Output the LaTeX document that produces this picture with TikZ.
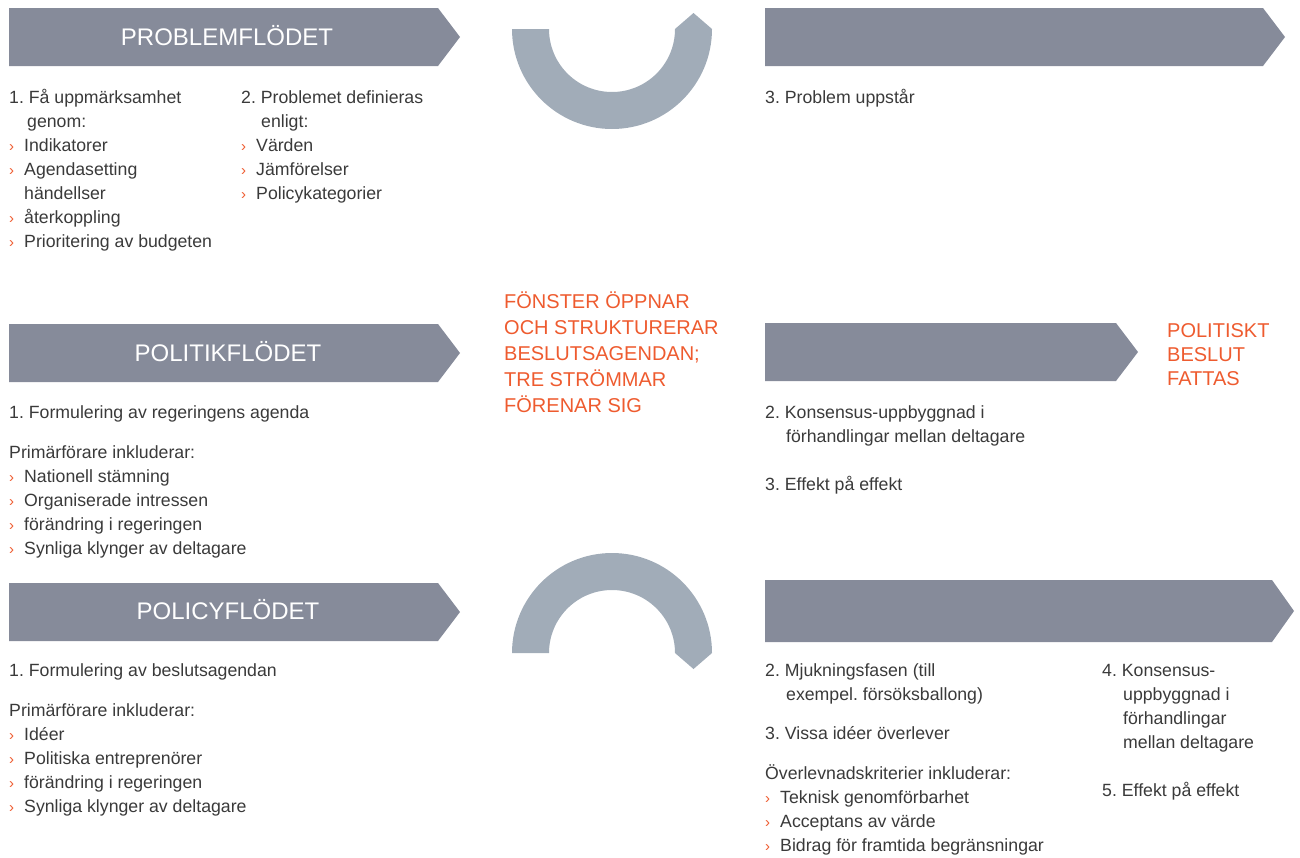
\documentclass[tikz,border=0pt]{standalone}
\usepackage{fontspec}
\setmainfont{Liberation Sans}
\usepackage{xcolor}
\usetikzlibrary{positioning}
\definecolor{flowgrey}{HTML}{868B9A}
\definecolor{arcgrey}{HTML}{A1ACB8}
\definecolor{ink}{HTML}{3A3A3A}
\definecolor{accent}{HTML}{EE5B2F}
\newcommand{\pil}{\makebox[15pt][l]{\textcolor{accent}{\fontsize{15}{15}\selectfont ›}}}

\begin{document}
\begin{tikzpicture}[x=1pt, y=-1pt,
  flow/.style={fill=flowgrey},
  window/.style={fill=arcgrey},
  head/.style={anchor=base, inner sep=0pt, text=white, font=\fontsize{24}{24}\selectfont},
  body/.style={anchor=north west, inner sep=0pt, align=left, text=ink, font=\fontsize{17.7}{24}\selectfont\frenchspacing},
  note/.style={anchor=north west, inner sep=0pt, align=left, text=accent, font=\fontsize{20}{26}\selectfont}]
  \useasboundingbox (0,0) rectangle (1300,857);
  % stream arrows
  \foreach \xa/\ya/\xb/\yb in {9/8/460/66, 765/8/1285/66, 9/324/460/382, 765/323/1138/381, 9/583/460/641, 765/580/1294/642}
    \fill[flow] (\xa,\ya) -- (\xb-22,\ya) -- (\xb,{(\ya+\yb)/2}) -- (\xb-22,\yb) -- (\xa,\yb) -- cycle;
  % window arcs
  \fill[window] (512,29) arc[start angle=180, end angle=0, radius=100] -- (693.5,13) -- (675,29)
    arc[start angle=0, end angle=180, radius=63] -- cycle;
  \fill[window] (512,653) arc[start angle=180, end angle=360, radius=100] -- (693.5,669) -- (675,653)
    arc[start angle=360, end angle=180, radius=63] -- cycle;

  \node[head] (problem) at (227,45) {PROBLEMFLÖDET};
  \node[head] (politik) at (228,361) {POLITIKFLÖDET};
  \node[head] (policy) at (228,619) {POLICYFLÖDET};

  % problem stream
  \node[body] (p1) at (9,86) {\strut 1. Få uppmärksamhet\\\hspace*{18pt}genom:\\\pil Indikatorer\\\pil Agendasetting\\\hspace*{15pt}händellser\\\pil återkoppling\\\pil Prioritering av budgeten};
  \node[body] (p2) at (241,86) {\strut 2. Problemet definieras\\\hspace*{20pt}enligt:\\\pil Värden\\\pil Jämförelser\\\pil Policykategorier};
  \node[body] (p3) at (765,86) {\strut 3. Problem uppstår};

  % politics stream
  \node[body] (q1) at (9,401) {\strut 1. Formulering av regeringens agenda\\[16pt]Primärförare inkluderar:\\\pil Nationell stämning\\\pil Organiserade intressen\\\pil förändring i regeringen\\\pil Synliga klynger av deltagare};
  \node[body] (q2) at (765,401) {\strut 2. Konsensus-uppbyggnad i\\\hspace*{21pt}förhandlingar mellan deltagare\\[24pt]3. Effekt på effekt};

  % policy stream
  \node[body] (r1) at (9,659) {\strut 1. Formulering av beslutsagendan\\[16pt]Primärförare inkluderar:\\\pil Idéer\\\pil Politiska entreprenörer\\\pil förändring i regeringen\\\pil Synliga klynger av deltagare};
  \node[body] (r2) at (765,659) {\strut 2. Mjukningsfasen (till\\\hspace*{21pt}exempel. försöksballong)\\[15pt]3. Vissa idéer överlever\\[16pt]Överlevnadskriterier inkluderar:\\\pil Teknisk genomförbarhet\\\pil Acceptans av värde\\\pil Bidrag för framtida begränsningar};
  \node[body] (r3) at (1102,659) {\strut 4. Konsensus-\\\hspace*{21pt}uppbyggnad i\\\hspace*{21pt}förhandlingar\\\hspace*{21pt}mellan deltagare\\[24pt]5. Effekt på effekt};

  \node[note] (fonster) at (504,290) {\strut FÖNSTER ÖPPNAR\\OCH STRUKTURERAR\\BESLUTSAGENDAN;\\TRE STRÖMMAR\\FÖRENAR SIG};
  \node[note, font=\fontsize{20}{24}\selectfont] (beslut) at (1167,320) {\strut POLITISKT\\BESLUT\\FATTAS};
\end{tikzpicture}
\end{document}
